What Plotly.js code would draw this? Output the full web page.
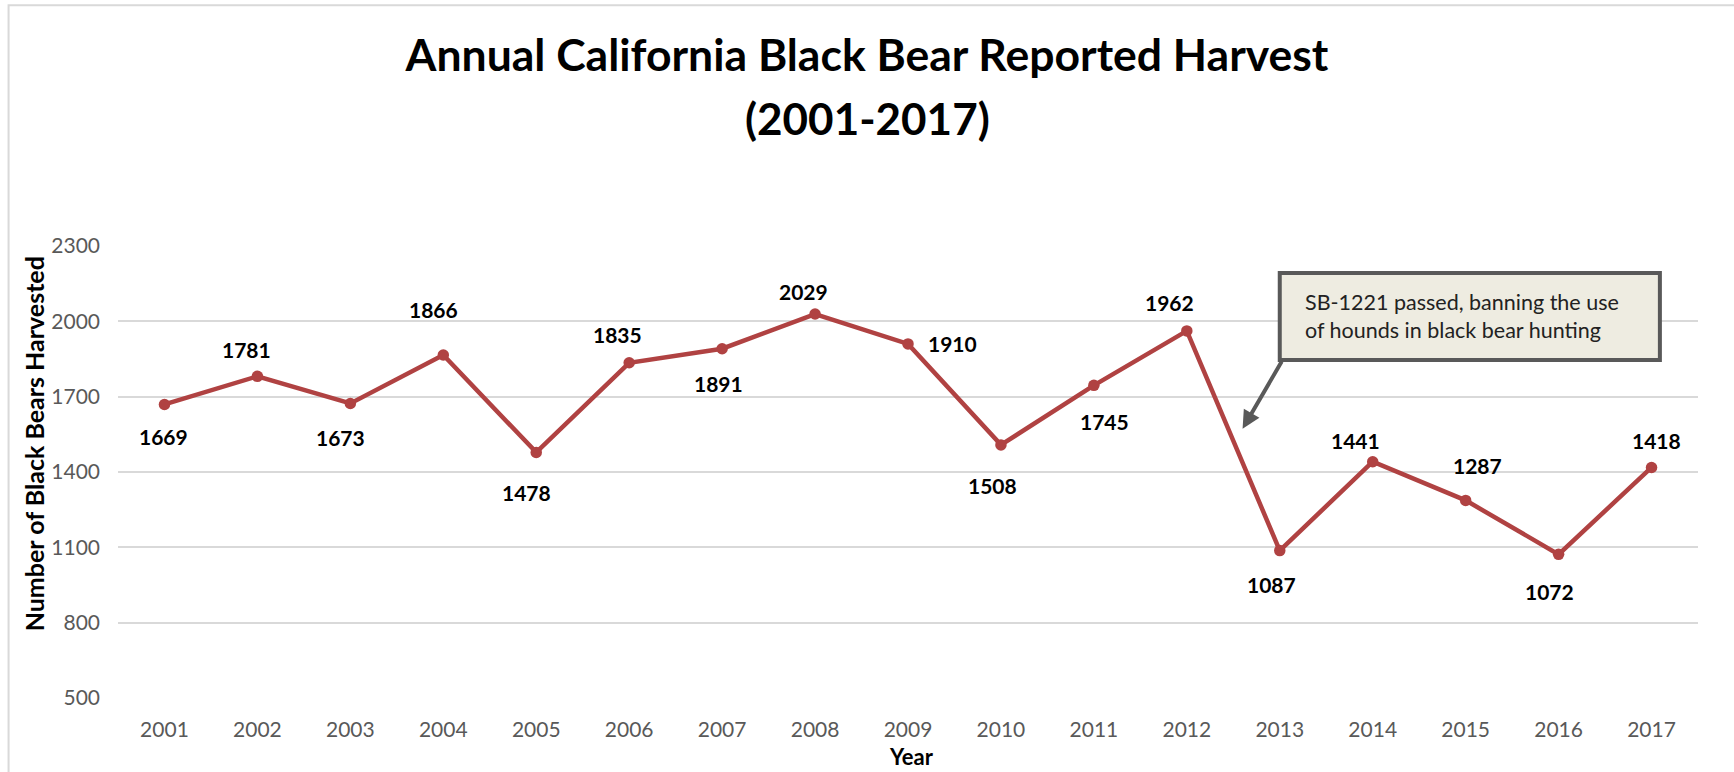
<!DOCTYPE html>
<html>
<head>
<meta charset="utf-8">
<script src="https://cdn.plot.ly/plotly-3.0.1.min.js"></script>
<style>
  html, body { margin: 0; padding: 0; background: #ffffff; }
  #chart { width: 1734px; height: 772px; }
</style>
</head>
<body>
<div id="chart"></div>
<script>
// ---- data ----
const years = ['2001','2002','2003','2004','2005','2006','2007','2008','2009',
               '2010','2011','2012','2013','2014','2015','2016','2017'];
const harvest = [1669, 1781, 1673, 1866, 1478, 1835, 1891, 2029, 1910,
                 1508, 1745, 1962, 1087, 1441, 1287, 1072, 1418];
const yTickValues = [500, 800, 1100, 1400, 1700, 2000, 2300];
const titleLine1 = 'Annual California Black Bear Reported Harvest';
const titleLine2 = '(2001-2017)';
const calloutText = 'SB-1221 passed, banning the use<br>of hounds in black bear hunting';

// ---- label placement (pixel offsets from each point) ----
const labelDx = [-1, -11, -10, -10, -10, -12, -4, -12, 44, -8, 11, -17, -8, -17, 12, -9, 5];
const labelDy = [32, -27, 34, -45, 40, -28, 35, -23, 0, 41, 36, -28, 34, -21, -35, 37, -27];

const lineColor = '#B04242';
const FONT = 'Lato, "Open Sans", sans-serif';

const trace = {
  type: 'scatter',
  mode: 'lines+markers',
  x: years,
  y: harvest,
  line: { color: lineColor, width: 4.5 },
  marker: { color: lineColor, size: 11.5 },
  hoverinfo: 'x+y'
};

// data labels: x given as category index on the category axis
const annotations = harvest.map((v, i) => ({
  x: years.indexOf(years[i]), y: v, xref: 'x', yref: 'y',
  text: '<b>' + String(v) + '</b>', showarrow: false,
  xshift: labelDx[i], yshift: -labelDy[i],
  xanchor: 'center', yanchor: 'middle',
  font: { family: FONT, size: 21, color: '#000000' }
}));

// second title line
annotations.push({
  xref: 'paper', yref: 'paper', x: (867 - 117.5) / 1581, y: (698.5 - 118) / 452.5,
  text: '<b>' + titleLine2 + '</b>', showarrow: false,
  xanchor: 'center', yanchor: 'middle',
  font: { family: FONT, size: 44, color: '#000000' }
});

// y-axis title
annotations.push({
  xref: 'paper', yref: 'paper', x: (33 - 117.5) / 1581, y: (698.5 - 444) / 452.5,
  text: '<b>Number of Black Bears Harvested</b>', showarrow: false, textangle: -90,
  xanchor: 'center', yanchor: 'middle',
  font: { family: FONT, size: 25, color: '#000000' }
});

// x-axis title
annotations.push({
  xref: 'paper', yref: 'paper', x: (912 - 117.5) / 1581, y: (698.5 - 757.5) / 452.5,
  text: '<b>Year</b>', showarrow: false,
  xanchor: 'center', yanchor: 'middle',
  font: { family: FONT, size: 22, color: '#000000' }
});

// callout text
annotations.push({
  xref: 'x', yref: 'y', x: 12.25, y: 2022,
  text: calloutText, showarrow: false, align: 'left',
  xanchor: 'left', yanchor: 'middle',
  font: { family: FONT, size: 21.5, color: '#222222' }
});

// callout arrow
annotations.push({
  xref: 'x', yref: 'y', x: 11.60, y: 1572,
  axref: 'x', ayref: 'y', ax: 12.03, ay: 1846,
  text: '', showarrow: true, arrowhead: 2, arrowsize: 0.9, arrowwidth: 4,
  arrowcolor: '#595959', standoff: 0, startstandoff: 0
});

const layout = {
  width: 1734, height: 772,
  paper_bgcolor: '#ffffff', plot_bgcolor: '#ffffff',
  margin: { l: 117.5, r: 35.5, t: 246, b: 73.5 },
  showlegend: false,
  title: {
    text: '<b>' + titleLine1 + '</b>',
    font: { family: FONT, size: 44.5, color: '#000000' },
    x: 0.5, xanchor: 'center', xref: 'container',
    y: 1 - 55 / 772, yanchor: 'middle', yref: 'container'
  },
  xaxis: {
    type: 'category',
    range: [-0.5, 16.5],
    showgrid: false, zeroline: false, showline: false,
    ticks: '', ticklabelstandoff: 17,
    tickfont: { family: FONT, size: 21, color: '#595959' }
  },
  yaxis: {
    range: [500, 2300],
    tickvals: yTickValues,
    showgrid: true, gridcolor: '#D9D9D9', gridwidth: 1.5,
    zeroline: false, showline: false,
    ticks: '', ticklabelstandoff: 17,
    tickfont: { family: FONT, size: 21, color: '#595959' }
  },
  shapes: [
    {
      type: 'rect', xref: 'x', yref: 'y', layer: 'above',
      x0: 12.0, x1: 16.09, y0: 1846, y1: 2192,
      line: { color: '#595959', width: 4 }, fillcolor: '#EEECE1'
    },
    {
      type: 'rect', xref: 'paper', yref: 'paper', layer: 'below',
      x0: (8 - 117.5) / 1581, x1: (1740 - 117.5) / 1581,
      y0: (698.5 - 780) / 452.5, y1: (698.5 - 5) / 452.5,
      line: { color: '#D9D9D9', width: 2 }, fillcolor: 'rgba(0,0,0,0)'
    }
  ],
  annotations: annotations,
  hovermode: 'closest'
};

Plotly.newPlot('chart', [trace], layout, { displayModeBar: false, responsive: false });
</script>
</body>
</html>
